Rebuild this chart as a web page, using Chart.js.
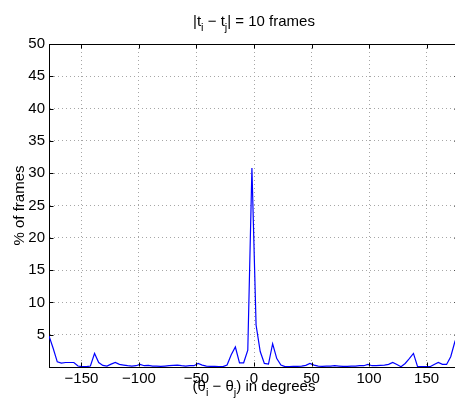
<!DOCTYPE html>
<html>
<head>
<meta charset="utf-8">
<script src="https://cdn.jsdelivr.net/npm/chart.js@4/dist/chart.umd.min.js"></script>
<style>
html, body { margin: 0; padding: 0; background: #fff; overflow: hidden; }
#wrap { width: 460px; height: 405px; }
</style>
</head>
<body>
<div id="wrap"><canvas id="c" width="460" height="405"></canvas></div>
<script>
// bin centres (degrees) and share of frames (%)
const angles = [
  -178.2, -174.6, -171.0, -167.4, -163.8, -160.2, -156.6, -153.0, -149.4, -145.8,
  -142.2, -138.6, -135.0, -131.4, -127.8, -124.2, -120.6, -117.0, -113.4, -109.8,
  -106.2, -102.6, -99.0, -95.4, -91.8, -88.2, -84.6, -81.0, -77.4, -73.8,
  -70.2, -66.6, -63.0, -59.4, -55.8, -52.2, -48.6, -45.0, -41.4, -37.8,
  -34.2, -30.6, -27.0, -23.4, -19.8, -16.2, -12.6, -9.0, -5.4, -1.8,
  1.8, 5.4, 9.0, 12.6, 16.2, 19.8, 23.4, 27.0, 30.6, 34.2,
  37.8, 41.4, 45.0, 48.6, 52.2, 55.8, 59.4, 63.0, 66.6, 70.2,
  73.8, 77.4, 81.0, 84.6, 88.2, 91.8, 95.4, 99.0, 102.6, 106.2,
  109.8, 113.4, 117.0, 120.6, 124.2, 127.8, 131.4, 135.0, 138.6, 142.2,
  145.8, 149.4, 153.0, 156.6, 160.2, 163.8, 167.4, 171.0, 174.6, 178.2
];
const percent = [
  4.8, 2.9, 0.8, 0.6, 0.7, 0.7, 0.7, 0.15, 0.05, 0.05,
  0.15, 2.1, 0.7, 0.25, 0.15, 0.45, 0.7, 0.4, 0.3, 0.2,
  0.15, 0.2, 0.4, 0.2, 0.25, 0.15, 0.15, 0.1, 0.15, 0.2,
  0.25, 0.3, 0.2, 0.15, 0.2, 0.2, 0.55, 0.3, 0.15, 0.1,
  0.1, 0.05, 0.05, 0.3, 1.9, 3.1, 0.65, 0.65, 2.6, 30.8,
  6.5, 2.4, 0.55, 0.45, 3.6, 1.3, 0.3, 0.05, 0.05, 0.1,
  0.1, 0.15, 0.25, 0.55, 0.3, 0.15, 0.1, 0.15, 0.15, 0.2,
  0.15, 0.1, 0.1, 0.15, 0.15, 0.2, 0.2, 0.4, 0.2, 0.2,
  0.25, 0.3, 0.4, 0.7, 0.4, 0.05, 0.55, 1.3, 2.1, 0.05,
  0.05, 0.05, 0.05, 0.4, 0.7, 0.4, 0.4, 1.6, 3.9, 5.5
];
const xTicks = [-150, -100, -50, 0, 50, 100, 150];
const yTicks = [0, 5, 10, 15, 20, 25, 30, 35, 40, 45, 50];

// text pieces: [text, isSubscript]
const titleParts = [['|t', false], ['i', true], [' \u2212 t', false], ['j', true], ['| = 10 frames', false]];
const xLabelParts = [['(\u03b8', false], ['i', true], [' \u2212 \u03b8', false], ['j', true], [') in degrees', false]];
const yLabel = '% of frames';

const FONT = "'Liberation Sans', Arial, sans-serif";

function drawParts(ctx, parts, cx, baseline) {
    const main = `15px ${FONT}`;
    const sub = `11px ${FONT}`;
    let total = 0;
    for (const [t, s] of parts) {
        ctx.font = s ? sub : main;
        total += ctx.measureText(t).width;
    }
    let x = cx - total / 2;
    ctx.textAlign = 'left';
    ctx.textBaseline = 'alphabetic';
    for (const [t, s] of parts) {
        ctx.font = s ? sub : main;
        ctx.fillText(t, x, s ? baseline + 5 : baseline);
        x += ctx.measureText(t).width;
    }
}

const decor = {
    id: 'decor',
    afterDraw(chart) {
        const { ctx, chartArea: a, scales } = chart;
        ctx.save();
        ctx.strokeStyle = '#000';
        ctx.lineWidth = 1;
        const top = Math.round(a.top) + 0.5;
        const right = Math.round(a.right) - 0.5;
        const bottom = Math.round(a.bottom) - 0.5;
        const left = Math.round(a.left) + 0.5;
        ctx.beginPath();
        ctx.moveTo(a.left, top); ctx.lineTo(a.right, top);
        ctx.moveTo(right, a.top); ctx.lineTo(right, a.bottom);
        // inward tick marks
        for (const v of xTicks) {
            const px = Math.round(scales.x.getPixelForValue(v)) + 0.5;
            ctx.moveTo(px, bottom); ctx.lineTo(px, bottom - 4);
            ctx.moveTo(px, top); ctx.lineTo(px, top + 4);
        }
        for (const v of yTicks) {
            const py = Math.round(scales.y.getPixelForValue(v)) + 0.5;
            ctx.moveTo(left, py); ctx.lineTo(left + 4, py);
            ctx.moveTo(right, py); ctx.lineTo(right - 4, py);
        }
        ctx.stroke();

        ctx.fillStyle = '#000';
        const cx = (a.left + a.right) / 2;
        drawParts(ctx, titleParts, cx, 26);
        drawParts(ctx, xLabelParts, cx, 391);

        ctx.translate(20, (a.top + a.bottom) / 2);
        ctx.rotate(-Math.PI / 2);
        ctx.font = `15px ${FONT}`;
        ctx.textAlign = 'center';
        ctx.textBaseline = 'middle';
        ctx.fillText(yLabel, 0, 0);
        ctx.restore();
    }
};

const gridStyle = { color: '#a6a6a6', lineWidth: 1, drawTicks: false };
const borderStyle = { color: '#000', width: 1, dash: [1, 3] };

new Chart(document.getElementById('c'), {
    type: 'line',
    data: {
        datasets: [{
            data: angles.map((a, i) => ({ x: a, y: percent[i] })),
            borderColor: '#0000ff',
            borderWidth: 1.2,
            pointRadius: 0,
            tension: 0,
            fill: false,
        }],
    },
    options: {
        responsive: false,
        animation: false,
        events: [],
        layout: { padding: { top: 44, right: 1, left: 0, bottom: 0 } },
        plugins: {
            legend: { display: false },
            tooltip: { enabled: false },
        },
        scales: {
            x: {
                type: 'linear',
                min: angles[0],
                max: angles[angles.length - 1],
                afterBuildTicks: s => { s.ticks = xTicks.map(v => ({ value: v })); },
                afterFit: s => { s.height = 38; },
                grid: gridStyle,
                border: borderStyle,
                ticks: {
                    padding: 3,
                    color: '#000',
                    font: { family: FONT, size: 15 },
                    maxRotation: 0,
                    callback: v => (v < 0 ? '\u2212' + Math.abs(v) : String(v)),
                },
            },
            y: {
                min: 0,
                max: 50,
                afterBuildTicks: s => { s.ticks = yTicks.map(v => ({ value: v })); },
                afterFit: s => { s.width = 49; },
                grid: gridStyle,
                border: borderStyle,
                ticks: {
                    padding: 4,
                    color: '#000',
                    font: { family: FONT, size: 15 },
                    callback: v => (v === 0 ? '' : String(v)),
                },
            },
        },
    },
    plugins: [decor],
});
</script>
</body>
</html>
